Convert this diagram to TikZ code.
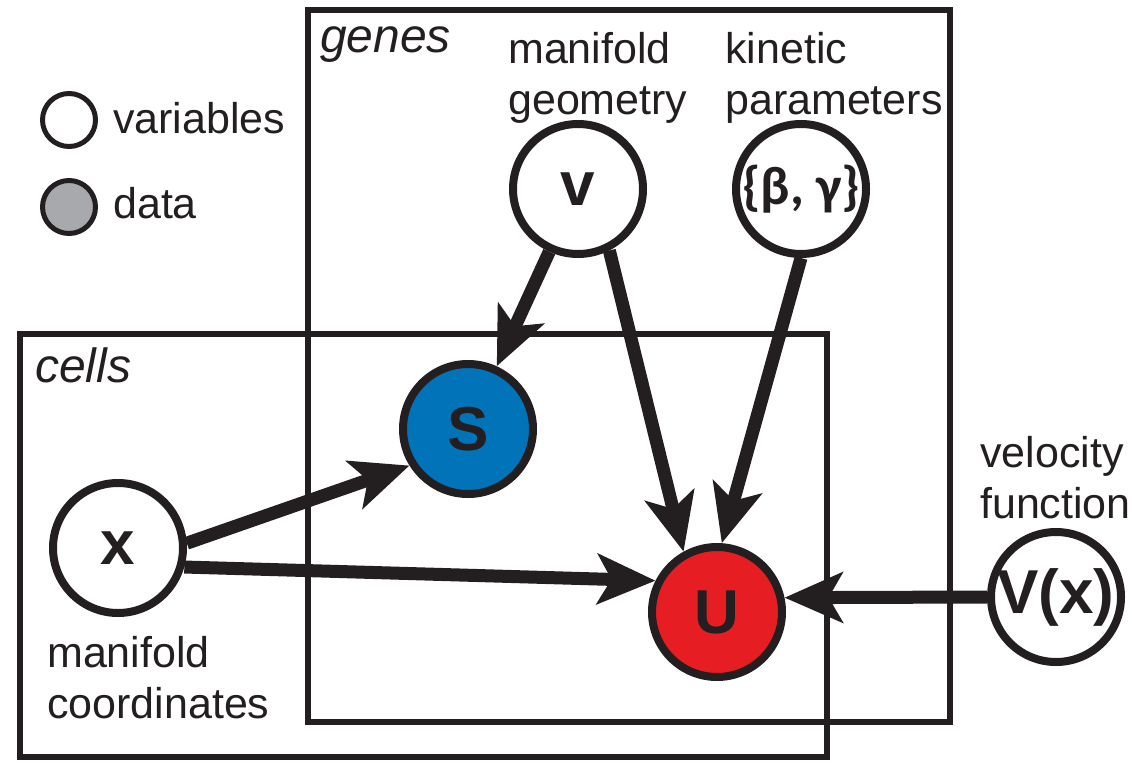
\documentclass[tikz,border=0pt]{standalone}
\usepackage{fontspec}
\setmainfont{Liberation Sans}
\newfontfamily\greekfont{Carlito}
\usetikzlibrary{arrows.meta}
\definecolor{ink}{RGB}{35,31,32}
\definecolor{sblue}{RGB}{0,115,185}
\definecolor{ured}{RGB}{230,30,36}
\definecolor{lgray}{RGB}{167,169,172}
\tikzset{
  var/.style={circle,draw=ink,line width=8pt,fill=white,minimum size=130pt,inner sep=0pt,
    text=ink,font=\fontsize{62}{62}\selectfont\bfseries},
  legendvar/.style={circle,draw=ink,line width=5pt,fill=white,minimum size=53pt,inner sep=0pt},
  platebox/.style={draw=ink,line width=6pt},
  lbl/.style={text=ink,font=\fontsize{43}{51}\selectfont,inner sep=0pt,align=left},
  platelbl/.style={text=ink,font=\fontsize{48}{52}\selectfont\itshape,inner sep=0pt},
  edge/.style={draw=ink,line width=13pt,-{Stealth[length=58pt,width=50pt,inset=14pt]}}
}
\begin{document}
\begin{tikzpicture}[x=1pt,y=-1pt]
\useasboundingbox (0,0) rectangle (1132,763);
% plates
\draw[platebox] (308,10) rectangle (950,722);
\draw[platebox] (20,334) rectangle (827,757);
\node[platelbl,anchor=base west] (genesl) at (320,52) {genes};
\node[platelbl,anchor=base west] (cellsl) at (35,382) {cells};
% legend
\node[legendvar] (lv) at (69,120) {};
\node[legendvar,fill=lgray] (ld) at (69,207) {};
\node[lbl,anchor=base west] (lvt) at (113,133) {variables};
\node[lbl,anchor=base west] (ldt) at (113,218) {data};
% nodes
\node[var] (v) at (578,189) {v};
\node[var,font=\fontsize{54}{54}\selectfont\greekfont\bfseries] (bg) at (801,189) {\makebox[0pt]{\{β, γ\}}};
\node[var,fill=sblue] (S) at (468,429) {S};
\node[var] (x) at (118,548) {x};
\node[var,fill=ured] (U) at (717,612) {U};
\node[var] (Vx) at (1056,597) {\makebox[0pt]{V(x)}};
% labels
\node[lbl,anchor=north west] (mg) at (508,32) {manifold\\geometry};
\node[lbl,anchor=north west] (kp) at (725,32) {kinetic\\parameters};
\node[lbl,anchor=north west] (vf) at (980,436) {velocity\\function};
\node[lbl,anchor=north west] (mc) at (47,636) {manifold\\coordinates};
% edges
\draw[edge] (v) -- (S);
\draw[edge] (v.-63) -- (U.119);
\draw[edge] (bg.-90) -- (U.86);
\draw[edge] (x.4) -- (S.212);
\draw[edge] (x.-16) -- (U.153);
\draw[edge] (Vx.west) -- (U.12);
\end{tikzpicture}
\end{document}
